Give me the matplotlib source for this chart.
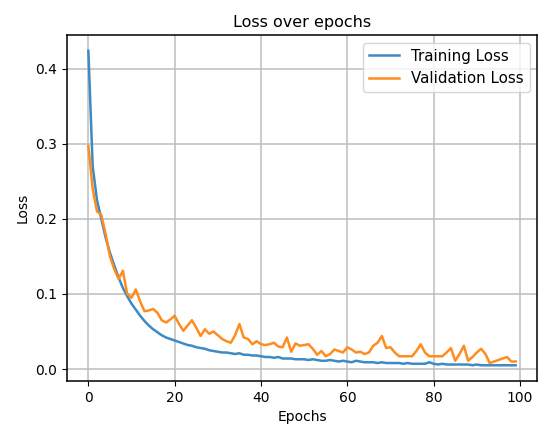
import matplotlib
matplotlib.use("Agg")
import matplotlib.pyplot as plt
import numpy as np

epochs = list(range(100))

train_loss = [
    0.424, 0.270, 0.225, 0.200, 0.175, 0.155, 0.138, 0.122, 0.108, 0.097,
    0.087, 0.079, 0.071, 0.064, 0.058, 0.053, 0.049, 0.045, 0.042, 0.040,
    0.038, 0.036, 0.034, 0.032, 0.031, 0.029, 0.028, 0.027, 0.025, 0.024,
    0.023, 0.022, 0.022, 0.021, 0.020, 0.021, 0.019, 0.019, 0.018, 0.018,
    0.017, 0.016, 0.016, 0.015, 0.016, 0.014, 0.014, 0.014, 0.013, 0.013,
    0.013, 0.012, 0.013, 0.012, 0.011, 0.011, 0.012, 0.011, 0.010, 0.011,
    0.010, 0.009, 0.011, 0.010, 0.009, 0.009, 0.009, 0.008, 0.009, 0.008,
    0.008, 0.008, 0.008, 0.007, 0.008, 0.007, 0.007, 0.007, 0.007, 0.009,
    0.007, 0.006, 0.007, 0.006, 0.006, 0.006, 0.006, 0.006, 0.006, 0.005,
    0.006, 0.005, 0.005, 0.005, 0.005, 0.005, 0.005, 0.005, 0.005, 0.005,
]

val_loss = [
    0.297, 0.240, 0.210, 0.205, 0.180, 0.150, 0.133, 0.120, 0.131, 0.100,
    0.095, 0.106, 0.090, 0.077, 0.078, 0.080, 0.075, 0.065, 0.062, 0.066,
    0.071, 0.060, 0.051, 0.058, 0.065, 0.055, 0.044, 0.053, 0.047, 0.050,
    0.045, 0.040, 0.037, 0.035, 0.045, 0.060, 0.042, 0.040, 0.033, 0.037,
    0.033, 0.032, 0.033, 0.035, 0.030, 0.029, 0.042, 0.023, 0.034, 0.031,
    0.032, 0.033, 0.027, 0.019, 0.024, 0.017, 0.020, 0.026, 0.024, 0.022,
    0.029, 0.026, 0.022, 0.023, 0.020, 0.022, 0.031, 0.035, 0.044, 0.028,
    0.029, 0.022, 0.017, 0.017, 0.017, 0.017, 0.024, 0.033, 0.022, 0.017,
    0.017, 0.017, 0.017, 0.022, 0.028, 0.011, 0.020, 0.031, 0.011, 0.016,
    0.022, 0.027, 0.020, 0.008, 0.010, 0.012, 0.014, 0.016, 0.010, 0.010,
]

fig = plt.figure(figsize=(5.41, 4.28), dpi=100)
ax = fig.add_axes([67/541, 1 - 381/428, (537-67)/541, (381-35)/428])

ax.plot(epochs, train_loss, color="#3d8ac4", linewidth=1.8, label="Training Loss")
ax.plot(epochs, val_loss, color="#ff8c1f", linewidth=1.8, label="Validation Loss")

ax.set_title("Loss over epochs", fontsize=11.5)
ax.set_xlabel("Epochs", fontsize=10)
ax.set_ylabel("Loss", fontsize=10)
ax.set_yticks([0.0, 0.1, 0.2, 0.3, 0.4])
ax.set_xticks([0, 20, 40, 60, 80, 100])
ax.tick_params(labelsize=10)
ax.grid(True, linewidth=1.1, color="#bdbdbd")
for s in ax.spines.values():
    s.set_linewidth(1.1)
ax.legend(loc="upper right", fontsize=10.8)

fig.savefig("out.png", dpi=100)
